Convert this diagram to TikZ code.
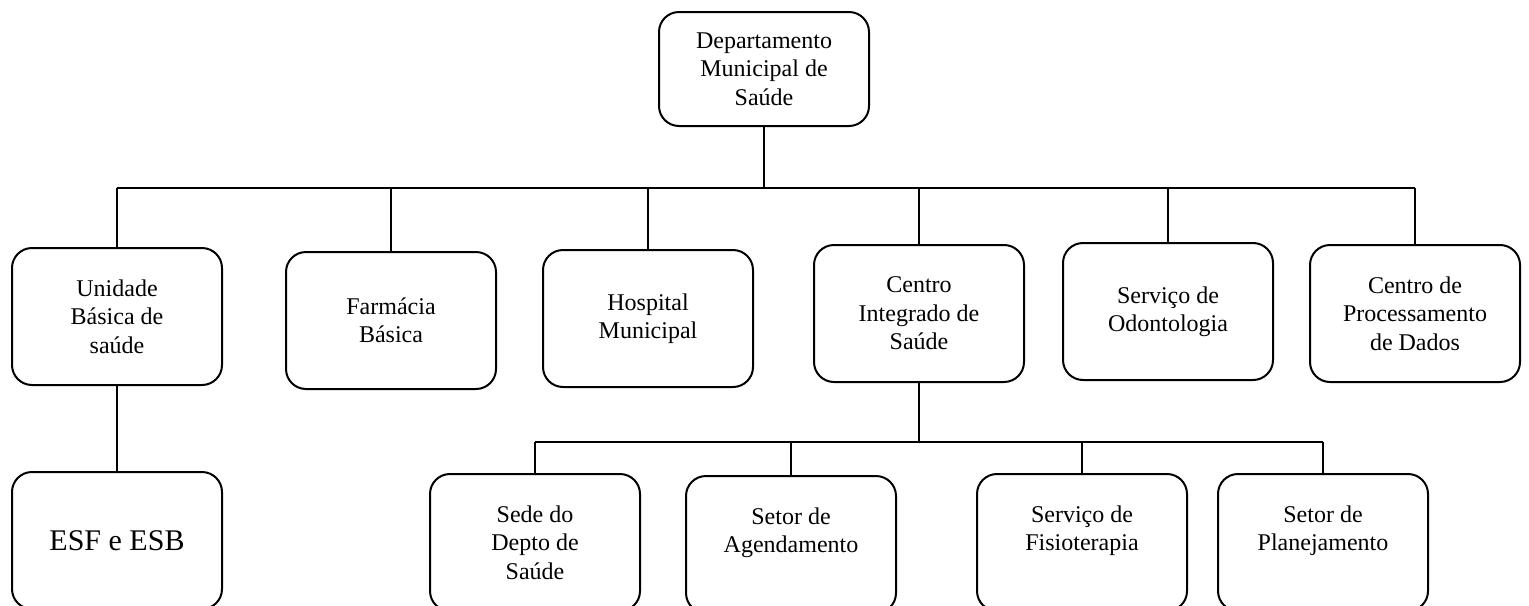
\documentclass[tikz,border=0pt]{standalone}
\usepackage{fontspec}
\setmainfont{Liberation Serif}
\usetikzlibrary{positioning}
\begin{document}
\begin{tikzpicture}[x=0.5pt,y=-0.5pt]
    \tikzstyle{unit} = [anchor=north, shape=rectangle, draw=black, line width=1pt, rounded corners=10pt, align=center, minimum width=105pt, minimum height=68.5pt, inner sep=2pt, outer sep=0pt, font=\fontsize{12}{14.2}\selectfont]
    \tikzstyle{link} = [black, line width=0.9pt]
    \useasboundingbox (0,0) rectangle (1529,605);

    \node[unit, minimum height=57pt] (dms) at (764,12) {Departamento\\Municipal de\\Saúde};

    \node[unit] (ubs) at (117,248) {Unidade\\Básica de\\saúde};
    \node[unit] (farm) at (391,252) {Farmácia\\Básica};
    \node[unit] (hosp) at (648,250) {Hospital\\Municipal};
    \node[unit] (cis) at (919,245) {Centro\\Integrado de\\Saúde};
    \node[unit] (odonto) at (1168,243) {Serviço de\\Odontologia};
    \node[unit] (cpd) at (1415,245) {Centro de\\Processamento\\de Dados};

    \node[unit, font=\fontsize{15}{18}\selectfont] (esf) at (117,472) {ESF e ESB};
    \node[unit] (sede) at (535,474) {Sede do\\Depto de\\Saúde};
    \node[unit] (agenda) at (791,476) {Setor de\\Agendamento\\\mbox{}};
    \node[unit] (fisio) at (1082,474) {Serviço de\\Fisioterapia\\\mbox{}};
    \node[unit] (plan) at (1323,474) {Setor de\\Planejamento\\\mbox{}};

    \coordinate (bus) at (0,188);
    \draw[link] (dms.south) -- (dms.south |- bus);
    \draw[link] (ubs.north |- bus) -- (cpd.north |- bus);
    \foreach \n in {ubs,farm,hosp,cis,odonto,cpd}
    {
        \draw[link] (\n.north |- bus) -- (\n.north);
    }
    \draw[link] (ubs.south) -- (esf.north);

    \coordinate (bus2) at (0,442);
    \draw[link] (cis.south) -- (cis.south |- bus2);
    \draw[link] (sede.north |- bus2) -- (plan.north |- bus2);
    \foreach \n in {sede,agenda,fisio,plan}
    {
        \draw[link] (\n.north |- bus2) -- (\n.north);
    }
\end{tikzpicture}
\end{document}
